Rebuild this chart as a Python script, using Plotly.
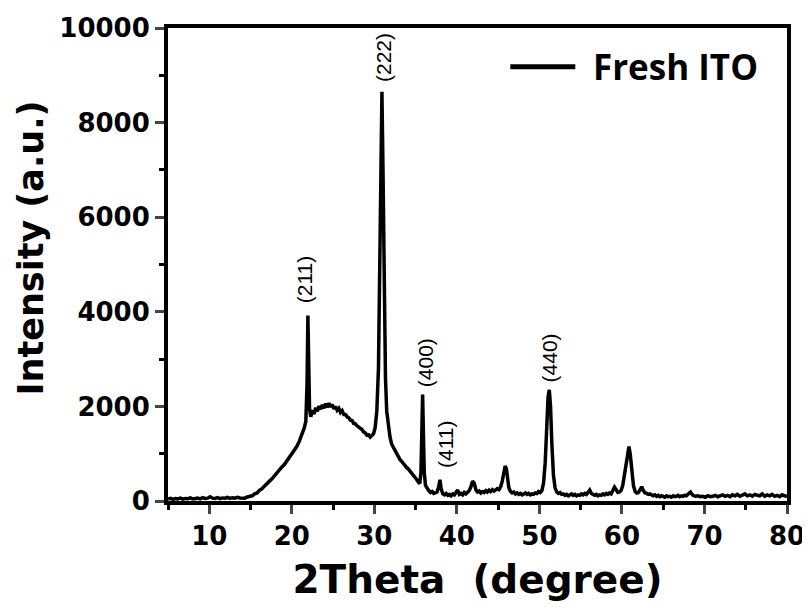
import plotly.graph_objects as go

two_theta = [
    5.0, 5.3, 5.6, 5.9, 6.2, 6.5, 6.8, 7.1, 7.4, 7.7, 8.0, 8.3, 8.6, 8.9, 9.2, 9.5, 9.8,
    10.1, 10.4, 10.7, 11.0, 11.3, 11.6, 11.9, 12.2, 12.5, 12.8, 13.1, 13.4, 13.7, 14.0,
    14.3, 14.6, 14.9, 15.2, 15.5, 15.8, 16.1, 16.4, 16.7, 17.0, 17.3, 17.6, 17.9, 18.2,
    18.5, 18.8, 19.1, 19.4, 19.7, 20.0, 20.3, 20.6, 20.9, 21.2, 21.5, 21.7, 21.85, 21.95,
    22.05, 22.15, 22.3, 22.5, 22.7, 22.9, 23.1, 23.3, 23.5, 23.7, 23.9, 24.1, 24.3, 24.5,
    24.7, 24.9, 25.1, 25.3, 25.5, 25.7, 25.9, 26.1, 26.3, 26.5, 26.7, 26.9, 27.1, 27.3,
    27.5, 27.7, 27.9, 28.1, 28.3, 28.5, 28.7, 28.9, 29.1, 29.3, 29.5, 29.7, 29.9, 30.1,
    30.3, 30.5, 30.65, 30.8, 30.92, 31.05, 31.2, 31.35, 31.5, 31.7, 31.9, 32.1, 32.3,
    32.5, 32.7, 32.9, 33.1, 33.3, 33.5, 33.7, 33.9, 34.1, 34.3, 34.5, 34.7, 34.9, 35.1,
    35.3, 35.5, 35.65, 35.75, 35.85, 35.95, 36.05, 36.2, 36.4, 36.6, 36.8, 37.0, 37.2,
    37.4, 37.6, 37.8, 37.95, 38.1, 38.3, 38.5, 38.7, 38.9, 39.1, 39.3, 39.5, 39.7, 39.9,
    40.1, 40.3, 40.5, 40.7, 40.9, 41.1, 41.3, 41.5, 41.7, 41.9, 42.1, 42.3, 42.5, 42.7,
    42.9, 43.1, 43.3, 43.5, 43.7, 43.9, 44.1, 44.3, 44.5, 44.7, 44.9, 45.1, 45.3, 45.5,
    45.7, 45.85, 46.0, 46.15, 46.3, 46.5, 46.7, 46.9, 47.1, 47.3, 47.5, 47.7, 47.9, 48.1,
    48.3, 48.5, 48.7, 48.9, 49.1, 49.3, 49.5, 49.7, 49.9, 50.1, 50.3, 50.5, 50.7, 50.9,
    51.05, 51.2, 51.35, 51.5, 51.7, 51.9, 52.1, 52.3, 52.5, 52.7, 52.9, 53.1, 53.3, 53.5,
    53.7, 53.9, 54.1, 54.3, 54.5, 54.7, 54.9, 55.1, 55.3, 55.5, 55.7, 55.9, 56.1, 56.3,
    56.5, 56.7, 56.9, 57.1, 57.3, 57.5, 57.7, 57.9, 58.1, 58.3, 58.5, 58.7, 58.9, 59.1,
    59.3, 59.5, 59.7, 59.9, 60.1, 60.3, 60.5, 60.7, 60.85, 61.0, 61.2, 61.4, 61.6, 61.8,
    62.0, 62.2, 62.4, 62.6, 62.8, 63.0, 63.2, 63.4, 63.6, 63.8, 64.0, 64.2, 64.4, 64.6,
    64.8, 65.0, 65.2, 65.4, 65.6, 65.8, 66.0, 66.2, 66.4, 66.6, 66.8, 67.0, 67.2, 67.4,
    67.6, 67.8, 68.0, 68.3, 68.6, 68.9, 69.2, 69.5, 69.8, 70.1, 70.4, 70.7, 71.0, 71.3,
    71.6, 71.9, 72.2, 72.5, 72.8, 73.1, 73.4, 73.7, 74.0, 74.3, 74.6, 74.9, 75.2, 75.5,
    75.8, 76.1, 76.4, 76.7, 77.0, 77.3, 77.6, 77.9, 78.2, 78.5, 78.8, 79.1, 79.4, 79.7, 80.0,
]
intensity = [
    40, 55, 35, 50, 45, 60, 40, 55, 50, 65, 45, 55, 60, 45, 70, 55, 60,
    90, 60, 55, 70, 50, 65, 60, 75, 55, 70, 60, 80, 65, 70,
    60, 85, 90, 110, 150, 170, 230, 260, 320, 360, 420, 470, 540, 590,
    650, 720, 770, 850, 900, 980, 1060, 1150, 1260, 1380, 1540, 1680, 2500, 3920,
    2600, 1950, 1780, 1920, 1840, 1970, 1900, 2010, 1940, 2030, 1960, 2060, 1980, 2070,
    1990, 2040, 1950, 2000, 1920, 1960, 1870, 1910, 1830, 1830, 1780, 1760, 1710, 1700,
    1640, 1630, 1590, 1570, 1530, 1510, 1460, 1440, 1390, 1400, 1350, 1390, 1420, 1550,
    1900, 2800, 4500, 7200, 8650, 7000, 4200, 2600, 1900, 1550, 1350, 1200, 1130,
    1050, 980, 930, 880, 840, 790, 760, 710, 680, 640, 590, 560, 500, 460,
    410, 370, 600, 1500, 2250, 1400, 600, 330, 260, 220, 180, 200, 160,
    170, 190, 300, 450, 250, 150, 130, 160, 120, 140, 110, 150, 130, 170,
    230, 140, 160, 130, 180, 150, 190, 220, 300, 420, 380, 240, 190, 210,
    170, 200, 180, 220, 190, 230, 200, 240, 210, 230, 260, 240, 300, 420,
    650, 740, 680, 450, 280, 200, 170, 190, 150, 170, 140, 160, 130, 150,
    170, 140, 160, 130, 150, 140, 170, 160, 200, 180, 220, 380, 800, 1600,
    2200, 2350, 2000, 1250, 550, 280, 190, 160, 180, 140, 150, 120, 140, 110,
    130, 150, 120, 140, 110, 130, 120, 150, 130, 160, 140, 200, 230, 160,
    140, 120, 140, 110, 130, 120, 150, 130, 160, 140, 170, 150, 220, 290,
    240, 180, 190, 220, 330, 550, 850, 1100, 1150, 1000, 650, 320, 200, 170,
    180, 240, 300, 220, 170, 160, 140, 150, 120, 110, 130, 100, 120, 90,
    110, 100, 80, 110, 90, 100, 80, 110, 90, 100, 120, 90, 110, 100,
    120, 110, 150, 190, 120, 100, 110, 90, 100, 80, 110, 90, 100, 120,
    90, 110, 130, 100, 120, 90, 130, 110, 140, 100, 120, 150, 110, 130,
    100, 140, 120, 110, 150, 100, 130, 110, 140, 100, 120, 90, 130, 100, 90,
]

# Peak (hkl) labels and their positions
peak_labels = ["(211)", "(222)", "(400)", "(411)", "(440)"]
label_x = [21.5, 31.2, 36.3, 38.6, 51.2]
label_y = [4670, 9370, 2920, 1190, 3020]

series_name = "Fresh ITO"
x_ticks = [10, 20, 30, 40, 50, 60, 70, 80]
x_ticktext = ["10", "20", "30", "40", "50", "60", "70", "80"]
y_ticks = [0, 2000, 4000, 6000, 8000, 10000]
y_ticktext = ["0", "2000", "4000", "6000", "8000", "10000"]

fig = go.Figure()
fig.add_trace(go.Scatter(
    x=two_theta, y=intensity, mode="lines", name=series_name,
    line=dict(color="black", width=3.5), showlegend=False,
))

for txt, lx, ly in zip(peak_labels, label_x, label_y):
    fig.add_annotation(x=lx, y=ly, text=txt, textangle=-90, showarrow=False,
                       font=dict(family="Liberation Sans, Arial", size=21, color="black"))

# legend drawn as a line sample plus text
fig.add_shape(type="line", xref="paper", yref="paper", x0=0.553, x1=0.658, y0=0.918, y1=0.918,
              line=dict(color="black", width=5))
fig.add_annotation(xref="paper", yref="paper", x=0.683, y=0.918, xanchor="left", yanchor="middle",
                   text="<b>" + series_name + "</b>", showarrow=False,
                   font=dict(family="Open Sans", size=35, color="black"))

# y-axis title as rotated annotation (positioned like the reference)
fig.add_annotation(xref="paper", yref="paper", x=-0.222, y=0.535, xanchor="center", yanchor="middle",
                   text="<b>Intensity (a.u.)</b>", textangle=-90, showarrow=False,
                   font=dict(family="DejaVu Sans", size=35, color="black"))

axis_font = dict(family="DejaVu Sans", size=26, color="black", weight="bold")

# the page body adds an 8 px offset, so the figure is sized to fit the window
fig.update_layout(
    width=800, height=594,
    margin=dict(l=160, r=21, t=20, b=101),
    paper_bgcolor="white", plot_bgcolor="white",
    xaxis=dict(
        range=[5, 80], tickvals=x_ticks, ticktext=x_ticktext, ticks="outside", ticklen=9, tickwidth=3,
        showline=True, linewidth=4, linecolor="black", mirror=True, showgrid=False, zeroline=False,
        tickfont=axis_font, automargin=False, ticklabeloverflow="allow",
        minor=dict(dtick=5, tick0=5, ticks="outside", ticklen=5, tickwidth=3, tickcolor="black", showgrid=False),
        title=dict(text="<b>2Theta  (degree)</b>", standoff=20,
                   font=dict(family="DejaVu Sans", size=39, color="black")),
    ),
    yaxis=dict(
        range=[0, 10000], tickvals=y_ticks, ticktext=y_ticktext, ticks="outside", ticklen=9, tickwidth=3,
        showline=True, linewidth=4, linecolor="black", mirror=True, showgrid=False, zeroline=False,
        tickfont=axis_font, automargin=False, ticklabeloverflow="allow",
        minor=dict(dtick=1000, tick0=0, ticks="outside", ticklen=5, tickwidth=3, tickcolor="black", showgrid=False),
    ),
)

fig.write_html("out.html")
